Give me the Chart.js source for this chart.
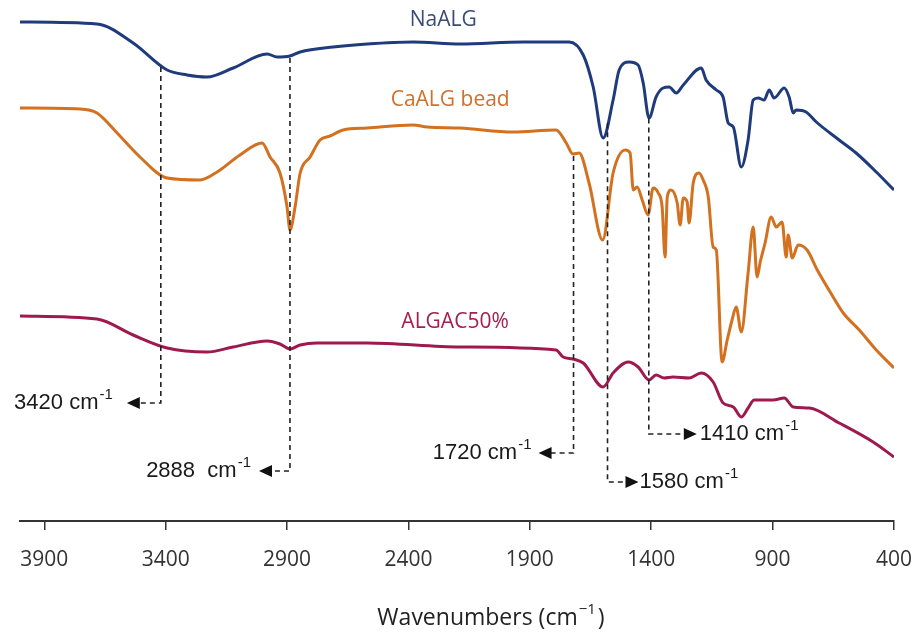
<!DOCTYPE html>
<html>
<head>
<meta charset="utf-8">
<title>FTIR spectra</title>
<script src="https://cdn.jsdelivr.net/npm/chart.js@4.4.1/dist/chart.umd.min.js"></script>
<style>
  html, body { margin: 0; padding: 0; background: #fff; }
  canvas { display: block; }
</style>
</head>
<body>
<canvas id="ftirChart" width="916" height="633"></canvas>
<script>
// x axis ticks (cm-1), axis runs from high to low wavenumber
const xTicks = [3900, 3400, 2900, 2400, 1900, 1400, 900, 400];

// NaALG: wavenumber (cm-1) and stacked transmittance (a.u.)
const naalgWn = [4000, 3683, 3534, 3394, 3312, 3230, 3122, 2982, 2941, 2888, 2846, 2710, 2570, 2381, 2187, 1928, 1738, 1680, 1639, 1598, 1557, 1532, 1491, 1454, 1433, 1409, 1380, 1351, 1326, 1297, 1268, 1194, 1174, 1132, 1104, 1083, 1062, 1029, 1001, 980, 959, 935, 914, 894, 852, 832, 815, 803, 762, 720, 626, 556, 473, 400];
const naalgT = [499, 497, 478, 451, 446, 444, 453, 467, 464, 465, 469, 474, 477, 479, 477, 479, 479, 466, 434, 383, 421, 451, 459, 456, 438, 403, 424, 433, 434, 428, 436, 453, 441, 431, 424, 398, 394, 354, 381, 421, 423, 421, 431, 423, 433, 424, 408, 411, 409, 399, 381, 368, 349, 331];

// CaALG bead
const caalgWn = [4000, 3753, 3683, 3600, 3506, 3394, 3258, 3188, 3094, 3003, 2970, 2929, 2900, 2888, 2867, 2846, 2805, 2764, 2723, 2669, 2570, 2381, 2323, 2187, 1969, 1792, 1750, 1722, 1697, 1656, 1600, 1557, 1507, 1487, 1474, 1458, 1437, 1413, 1392, 1371, 1355, 1343, 1334, 1318, 1293, 1281, 1268, 1252, 1244, 1227, 1203, 1186, 1165, 1145, 1132, 1108, 1087, 1067, 1050, 1029, 1001, 980, 964, 951, 931, 906, 885, 861, 844, 836, 819, 795, 758, 716, 663, 609, 543, 473, 400];
const caalgT = [413, 412, 408, 388, 364, 343, 341, 349, 366, 378, 364, 348, 314, 291, 314, 348, 364, 381, 385, 391, 393, 396, 394, 393, 389, 391, 378, 367, 368, 338, 281, 348, 371, 368, 331, 334, 321, 306, 333, 328, 314, 264, 324, 331, 318, 296, 323, 319, 298, 338, 348, 341, 324, 274, 271, 159, 181, 201, 214, 189, 248, 294, 244, 259, 278, 304, 294, 299, 264, 286, 263, 276, 271, 251, 229, 208, 191, 171, 153];

// ALGAC50%
const algacWn = [4000, 3683, 3534, 3394, 3230, 3122, 2982, 2929, 2888, 2846, 2776, 2570, 2187, 1792, 1763, 1722, 1680, 1598, 1557, 1495, 1454, 1409, 1380, 1347, 1310, 1244, 1194, 1145, 1104, 1062, 1029, 1001, 976, 898, 852, 815, 749, 626, 486, 400];
const algacT = [205, 202, 186, 173, 169, 174, 180, 177, 172, 176, 178, 178, 174, 171, 164, 162, 158, 134, 148, 159, 154, 141, 146, 143, 144, 143, 148, 139, 118, 114, 104, 113, 121, 121, 123, 114, 113, 98, 79, 64];

const seriesNames = ["NaALG", "CaALG bead", "ALGAC50%"];

// marked bands (cm-1), where each label sits and which spectrum the guide starts from
const peakWn = [3420, 2888, 1720, 1580, 1410];
const peakLabelT = [118, 50, 68, 39, 87];
const peakFrom = [0, 0, 1, 0, 0];

const lineColors = ["#1f3b7c", "#d2711f", "#9e1a4e"];
const labelColors = ["#3b4b72", "#d0702a", "#a3204f"];
const GEO_FONT = '"Open Sans", "DejaVu Sans", sans-serif';
const ARIAL = '"Liberation Sans", Arial, sans-serif';

function toPoints(wn, t) {
  return wn.map((w, i) => ({ x: w, y: t[i] }));
}

// linear lookup on a descending wavenumber list
function valueAt(wn, t, w) {
  for (let i = 0; i < wn.length - 1; i++) {
    if (w <= wn[i] && w >= wn[i + 1]) {
      const f = (wn[i] - w) / (wn[i] - wn[i + 1]);
      return t[i] + f * (t[i + 1] - t[i]);
    }
  }
  return t[t.length - 1];
}

const allWn = [naalgWn, caalgWn, algacWn];
const allT = [naalgT, caalgT, algacT];

// text followed by a small raised part, e.g. cm^-1
function drawWithSup(ctx, main, sup, tail, x, y, align, size, font, color) {
  ctx.save();
  ctx.fillStyle = color;
  ctx.textBaseline = "middle";
  ctx.textAlign = "left";
  const supSize = Math.round(size * 0.66);
  ctx.font = size + "px " + font;
  const wMain = ctx.measureText(main).width;
  const wTail = tail ? ctx.measureText(tail).width : 0;
  ctx.font = supSize + "px " + font;
  const wSup = ctx.measureText(sup).width;
  const total = wMain + 1 + wSup + (tail ? 2 + wTail : 0);
  let x0 = x;
  if (align === "right") x0 = x - total;
  if (align === "center") x0 = x - total / 2;
  ctx.font = size + "px " + font;
  ctx.fillText(main, x0, y);
  if (tail) ctx.fillText(tail, x0 + wMain + 1 + wSup + 2, y);
  ctx.font = supSize + "px " + font;
  ctx.fillText(sup, x0 + wMain + 1, y - size * 0.36);
  ctx.restore();
}

const peakLabels = {
  id: "peakLabels",
  afterDatasetsDraw(chart) {
    const ctx = chart.ctx;
    const xs = chart.scales.x;
    const ys = chart.scales.y;

    // series names
    const nameAt = [[2257, 501], [2228, 421], [2208, 199]];
    ctx.save();
    ctx.font = "21px " + GEO_FONT;
    ctx.textAlign = "center";
    ctx.textBaseline = "middle";
    seriesNames.forEach((n, i) => {
      ctx.fillStyle = labelColors[i];
      ctx.fillText(n, xs.getPixelForValue(nameAt[i][0]), ys.getPixelForValue(nameAt[i][1]));
    });
    ctx.restore();

    // dashed guides with arrows
    const arms = [34, 31, 35, 31, 48];
    const gaps = [14, 8, 7, 1, 3];
    const texts = ["3420 cm", "2888  cm", "1720 cm", "1580 cm", "1410 cm"];
    peakWn.forEach((w, i) => {
      const x = xs.getPixelForValue(w);
      const s = peakFrom[i];
      const yTop = ys.getPixelForValue(valueAt(allWn[s], allT[s], w));
      const yLab = ys.getPixelForValue(peakLabelT[i]);
      const dir = i < 3 ? -1 : 1;
      const tip = x + dir * arms[i];
      ctx.save();
      ctx.strokeStyle = "#222";
      ctx.lineWidth = 1.6;
      ctx.setLineDash([5, 4]);
      ctx.beginPath();
      ctx.moveTo(x, yTop + 2);
      ctx.lineTo(x, yLab);
      ctx.lineTo(tip - dir * 11, yLab);
      ctx.stroke();
      ctx.setLineDash([]);
      ctx.fillStyle = "#111";
      ctx.beginPath();
      ctx.moveTo(tip, yLab);
      ctx.lineTo(tip - dir * 13, yLab - 6);
      ctx.lineTo(tip - dir * 13, yLab + 6);
      ctx.closePath();
      ctx.fill();
      ctx.restore();
      const tx = tip + dir * gaps[i];
      drawWithSup(ctx, texts[i], "-1", "", tx, yLab, dir < 0 ? "right" : "left", 22, ARIAL, "#1a1a1a");
    });

    // axis title
    const cx = (chart.chartArea.left + chart.chartArea.right) / 2 + 34;
    drawWithSup(ctx, "Wavenumbers (cm", "\u22121", ")", cx, 618, "center", 23, GEO_FONT, "#222");
  }
};

const datasets = [
  toPoints(naalgWn, naalgT),
  toPoints(caalgWn, caalgT),
  toPoints(algacWn, algacT)
].map((pts, i) => ({
  label: seriesNames[i],
  data: pts,
  borderColor: lineColors[i],
  borderWidth: 3,
  pointRadius: 0,
  cubicInterpolationMode: "monotone",
  fill: false
}));

const ctx = document.getElementById("ftirChart").getContext("2d");
const chart = new Chart(ctx, {
  type: "line",
  data: { datasets: datasets },
  options: {
    responsive: false,
    animation: false,
    layout: { padding: { left: 20, right: 22, top: 0, bottom: 0 } },
    plugins: {
      legend: { display: false },
      tooltip: { enabled: false }
    },
    scales: {
      x: {
        type: "linear",
        reverse: true,
        min: 400,
        max: 4000,
        afterBuildTicks: (scale) => {
          scale.ticks = xTicks.map((v) => ({ value: v }));
        },
        afterFit: (scale) => {
          // fixed band under the plot, edge labels may overhang
          scale.height = 112;
          scale.paddingLeft = 0;
          scale.paddingRight = 0;
        },
        grid: {
          drawOnChartArea: false,
          drawTicks: true,
          tickLength: 9,
          color: "#333",
          lineWidth: 1.5
        },
        border: { display: true, color: "#333", width: 2 },
        ticks: {
          color: "#333",
          font: { family: GEO_FONT, size: 21 },
          padding: 17,
          maxRotation: 0,
          autoSkip: false,
          callback: (v) => String(v)
        }
      },
      y: { display: false, min: 0, max: 521 }
    }
  },
  plugins: [peakLabels]
});
</script>
</body>
</html>
